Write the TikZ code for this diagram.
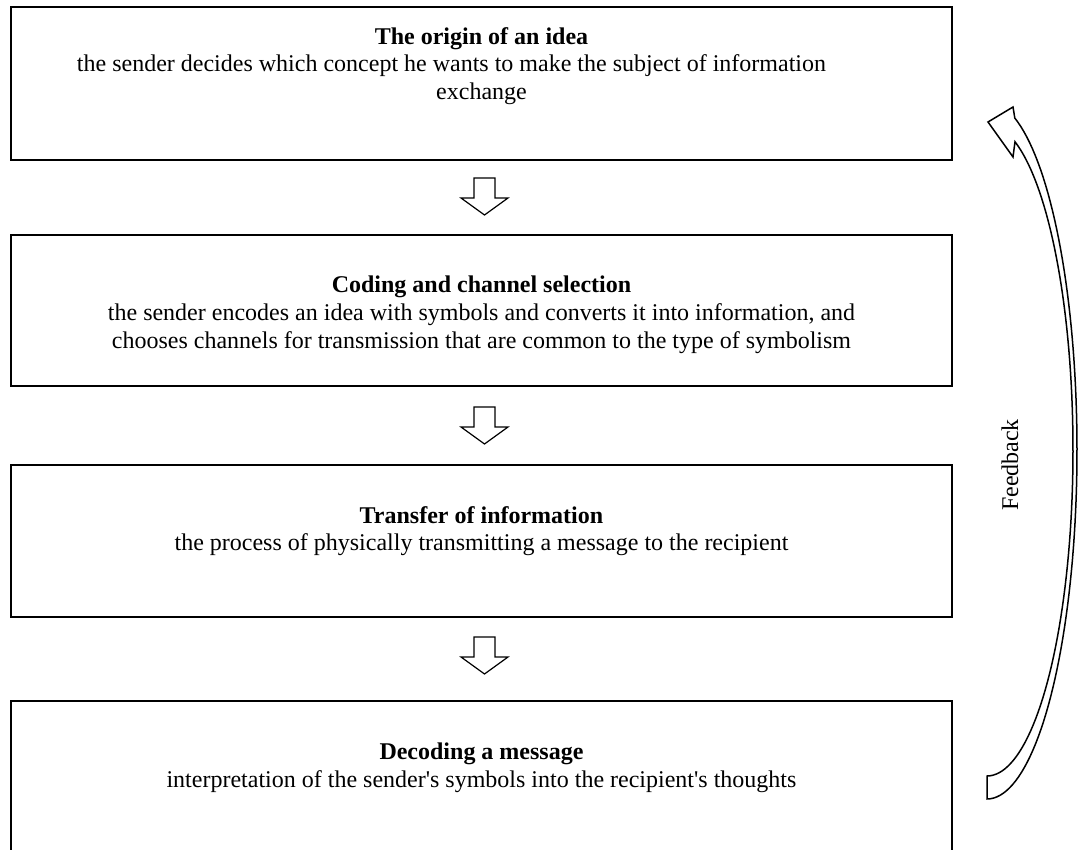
\documentclass[tikz,border=0pt]{standalone}
\usepackage{fontspec}
\setmainfont{Liberation Serif}
\begin{document}
\begin{tikzpicture}[x=1pt,y=-1pt,
  stagebox/.style={draw=black, line width=2pt},
  stagetext/.style={anchor=north, align=center, font=\fontsize{24}{27.6}\selectfont, inner sep=0pt},
  flowarrow/.style={draw=black, line width=1.2pt, fill=white, line join=miter},
  fbline/.style={draw=black, line width=1.5pt, line join=miter}]
\useasboundingbox (0,0) rectangle (1080,850);
% boxes
\draw[stagebox] (11,7) rectangle (952,160);
\draw[stagebox] (11,235) rectangle (952,386);
\draw[stagebox] (11,465) rectangle (952,617);
\draw[stagebox] (11,701) rectangle (952,880);
\node[stagetext] (t1) at (481.5,27) {\textbf{The origin of an idea}\\the sender decides which concept he wants to make the subject of information\makebox[60pt]{}\\exchange};
\node[stagetext] (t2) at (481.5,276) {\textbf{Coding and channel selection}\\the sender encodes an idea with symbols and converts it into information, and\\chooses channels for transmission that are common to the type of symbolism};
\node[stagetext] (t3) at (481.5,506) {\textbf{Transfer of information}\\the process of physically transmitting a message to the recipient};
\node[stagetext] (t4) at (481.5,743) {\textbf{Decoding a message}\\interpretation of the sender\textquotesingle s symbols into the recipient\textquotesingle s thoughts};
% down arrows
\foreach \n/\y in {a1/178, a2/407, a3/637}{
  \coordinate (\n) at (484.5,\y);
  \draw[flowarrow] (\n) ++(-10.5,0) -- ++(21,0) -- ++(0,20) -- ++(13,0) -- ++(-23.5,17) -- ++(-23.5,-17) -- ++(13,0) -- cycle;
}
% feedback arrow (two elliptical arcs)
\draw[fbline] plot[domain=-72:90, samples=80, variable=\t] ({987+90*cos(\t)}, {450+349*sin(\t)})
   -- plot[domain=-90:71, samples=80, variable=\t] ({987+86*cos(\t)}, {450-326*sin(\t)})
   -- (1013,157) -- (988,122) -- (1013,107) -- cycle;
\node[rotate=90, font=\fontsize{24}{27.6}\selectfont, inner sep=0pt] (fb) at (1010,465) {Feedback};
\end{tikzpicture}
\end{document}
